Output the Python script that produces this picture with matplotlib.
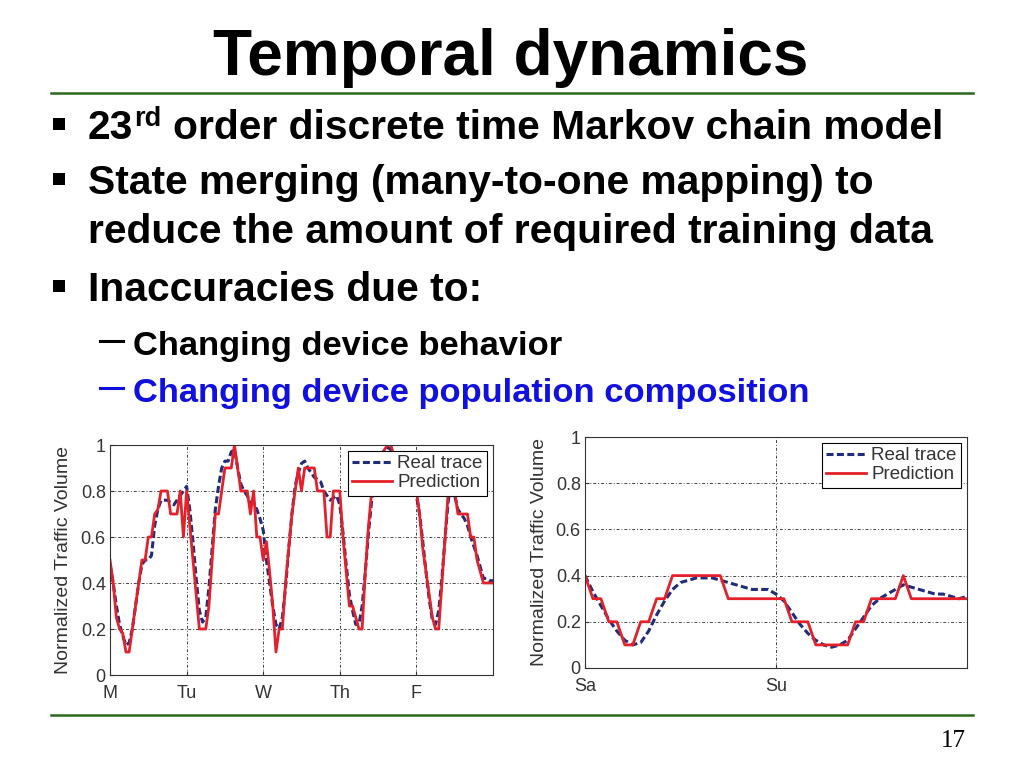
import matplotlib
matplotlib.use("Agg")
import matplotlib.pyplot as plt
from matplotlib.lines import Line2D
from matplotlib.patches import Rectangle
import numpy as np

W, H = 1024, 768

title = "Temporal dynamics"
bullets = ["order discrete time Markov chain model",
           "State merging (many-to-one mapping) to",
           "reduce the amount of required training data",
           "Inaccuracies due to:"]
sub_bullets = ["Changing device behavior",
               "Changing device population composition"]

weekday_labels = ["M", "Tu", "W", "Th", "F"]
weekend_labels = ["Sa", "Su"]

# hourly values, Monday 0h .. Saturday 0h
weekday_real = [0.48, 0.40, 0.30, 0.22, 0.17, 0.13, 0.14, 0.20, 0.30, 0.40,
                0.48, 0.50, 0.50, 0.52, 0.65, 0.72, 0.76, 0.76, 0.76, 0.75,
                0.74, 0.76, 0.78, 0.80, 0.82, 0.72, 0.58, 0.42, 0.28, 0.23,
                0.25, 0.38, 0.55, 0.72, 0.82, 0.90, 0.93, 0.93, 0.97, 0.98,
                0.90, 0.83, 0.80, 0.78, 0.75, 0.75, 0.72, 0.68, 0.63, 0.50,
                0.40, 0.30, 0.22, 0.20, 0.25, 0.38, 0.55, 0.70, 0.82, 0.88,
                0.92, 0.93, 0.90, 0.88, 0.86, 0.85, 0.84, 0.80, 0.78, 0.76,
                0.77, 0.78, 0.74, 0.62, 0.48, 0.35, 0.28, 0.22, 0.22, 0.30,
                0.45, 0.62, 0.76, 0.85, 0.90, 0.95, 0.98, 0.99, 0.98, 0.95,
                0.92, 0.90, 0.88, 0.87, 0.85, 0.83, 0.78, 0.70, 0.58, 0.45,
                0.33, 0.24, 0.22, 0.28, 0.42, 0.60, 0.76, 0.85, 0.78, 0.72,
                0.70, 0.68, 0.65, 0.60, 0.56, 0.52, 0.47, 0.42, 0.42, 0.41,
                0.41]
weekday_pred = [0.50, 0.40, 0.25, 0.20, 0.18, 0.10, 0.10, 0.20, 0.30, 0.40,
                0.50, 0.50, 0.60, 0.60, 0.70, 0.72, 0.80, 0.80, 0.80, 0.70,
                0.70, 0.70, 0.80, 0.60, 0.80, 0.65, 0.50, 0.35, 0.20, 0.20,
                0.20, 0.30, 0.50, 0.70, 0.70, 0.80, 0.90, 0.90, 0.90, 1.00,
                0.90, 0.80, 0.80, 0.80, 0.70, 0.80, 0.60, 0.60, 0.50, 0.58,
                0.45, 0.30, 0.10, 0.20, 0.20, 0.40, 0.55, 0.70, 0.80, 0.90,
                0.80, 0.90, 0.90, 0.90, 0.90, 0.80, 0.80, 0.80, 0.60, 0.60,
                0.80, 0.80, 0.80, 0.60, 0.45, 0.30, 0.30, 0.25, 0.20, 0.20,
                0.45, 0.65, 0.80, 0.85, 0.90, 0.95, 0.98, 1.00, 1.00, 0.95,
                0.90, 0.90, 0.90, 0.90, 0.85, 0.85, 0.80, 0.70, 0.55, 0.45,
                0.35, 0.25, 0.20, 0.20, 0.40, 0.60, 0.80, 0.90, 0.80, 0.70,
                0.70, 0.70, 0.70, 0.60, 0.60, 0.50, 0.45, 0.40, 0.40, 0.40,
                0.40]

# hourly values, Saturday 0h .. Monday 0h
weekend_real = [0.40, 0.33, 0.27, 0.21, 0.16, 0.12, 0.10, 0.11, 0.16, 0.23,
                0.29, 0.34, 0.37, 0.38, 0.39, 0.39, 0.39, 0.38, 0.37, 0.36,
                0.35, 0.34, 0.34, 0.34, 0.32, 0.29, 0.24, 0.19, 0.15, 0.12,
                0.10, 0.09, 0.10, 0.12, 0.17, 0.22, 0.27, 0.30, 0.32, 0.34,
                0.36, 0.35, 0.34, 0.33, 0.32, 0.32, 0.31, 0.30, 0.31]
weekend_pred = [0.40, 0.30, 0.30, 0.20, 0.20, 0.10, 0.10, 0.20, 0.20, 0.30,
                0.30, 0.40, 0.40, 0.40, 0.40, 0.40, 0.40, 0.40, 0.30, 0.30,
                0.30, 0.30, 0.30, 0.30, 0.30, 0.30, 0.20, 0.20, 0.20, 0.10,
                0.10, 0.10, 0.10, 0.10, 0.20, 0.20, 0.30, 0.30, 0.30, 0.30,
                0.40, 0.30, 0.30, 0.30, 0.30, 0.30, 0.30, 0.30, 0.30]

FONT = "Liberation Sans"
GREEN = "#2a6a1c"


def fx(x):
    return x / W


def fy(y):
    return 1 - y / H


fig = plt.figure(figsize=(W / 100, H / 100), dpi=100, facecolor="white")

# title and rules
fig.text(fx(511), fy(75), title, ha="center", va="baseline",
         fontsize=46, fontweight="bold", family=FONT)
for yy in (93, 715):
    fig.add_artist(Line2D([fx(51), fx(973)], [fy(yy), fy(yy)],
                          color=GREEN, lw=1.8))

# bullet text
renderer = fig.canvas.get_renderer()
t23 = fig.text(fx(88), fy(139), "23", ha="left", va="baseline",
               fontsize=29.3, fontweight="bold", family=FONT)
bb = t23.get_window_extent(renderer)
trd = fig.text(bb.x1 / W + 1 / W, fy(126), "rd", ha="left", va="baseline",
               fontsize=19.5, fontweight="bold", family=FONT)
bb = trd.get_window_extent(renderer)
fig.text(bb.x1 / W + 11 / W, fy(139), bullets[0], ha="left", va="baseline",
         fontsize=29.3, fontweight="bold", family=FONT)

for txt, base in zip(bullets[1:], (194, 243, 301)):
    fig.text(fx(88), fy(base), txt, ha="left", va="baseline",
             fontsize=29.3, fontweight="bold", family=FONT)

for base in (139, 194, 301):
    fig.add_artist(Rectangle((fx(53), fy(base - 9)), 12 / W, 12 / H,
                             color="black", lw=0))

for txt, base, col in zip(sub_bullets, (355, 402), ("black", "#1010e0")):
    fig.add_artist(Line2D([fx(100), fx(123)], [fy(base - 14)] * 2,
                          color=col, lw=2.2))
    fig.text(fx(133), fy(base), txt, ha="left", va="baseline",
             fontsize=24.8, fontweight="bold", family=FONT, color=col)

fig.text(fx(953), fy(747), "17", ha="center", va="baseline",
         fontsize=18, family="Liberation Serif")


def draw_panel(rect, real, pred, labels):
    ax = fig.add_axes(rect)
    hours = np.arange(len(real))
    ax.plot(hours, real, color="#1f2d7a", lw=2.2, dashes=(2.3, 1.1),
            label="Real trace")
    ax.plot(hours, pred, color="#e4202a", lw=2.0, label="Prediction")
    ax.set_xlim(0, len(real) - 1)
    ax.set_ylim(0, 1)
    ax.set_xticks(np.arange(len(labels)) * 24)
    ax.set_xticklabels(labels)
    ax.set_yticks([0, 0.2, 0.4, 0.6, 0.8, 1])
    ax.set_yticklabels(["0", "0.2", "0.4", "0.6", "0.8", "1"])
    ax.grid(True, color="#444444", lw=0.7, ls=(0, (3, 2, 1, 2)))
    ax.tick_params(direction="in", length=3, labelsize=13,
                   labelcolor="#333333", color="#333333")
    ax.tick_params(axis="x", pad=7)
    ax.tick_params(axis="y", pad=3)
    for lab in ax.get_xticklabels() + ax.get_yticklabels():
        lab.set_family(FONT)
    for s in ax.spines.values():
        s.set_color("#333333")
        s.set_linewidth(0.8)
    ax.set_ylabel("Normalized Traffic Volume", fontsize=14,
                  family=FONT, color="#333333")
    ax.yaxis.set_label_coords(-0.098, 0.5)
    leg = ax.legend(loc="upper right", frameon=True,
                    fancybox=False, handlelength=2.1, handletextpad=0.3,
                    labelspacing=0.1, borderpad=0.25, borderaxespad=0.3,
                    prop={"family": FONT, "size": 13.5})
    leg.get_frame().set_edgecolor("black")
    leg.get_frame().set_linewidth(0.8)
    leg.get_frame().set_alpha(1)
    for t in leg.get_texts():
        t.set_color("#333333")
    return ax


draw_panel([110 / W, 1 - 675 / H, 383 / W, 230 / H],
           weekday_real, weekday_pred, weekday_labels)
draw_panel([585 / W, 1 - 668 / H, 382 / W, 231 / H],
           weekend_real, weekend_pred, weekend_labels)

fig.savefig("out.png", dpi=100, facecolor="white")
